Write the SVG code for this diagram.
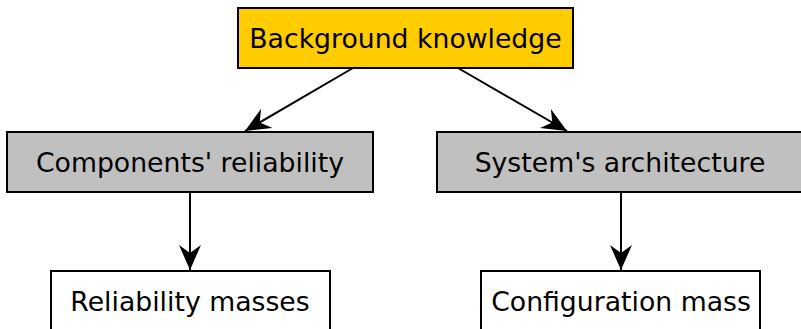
<svg xmlns="http://www.w3.org/2000/svg" width="801" height="329" viewBox="0 0 801 329">
  <style>
    .box { stroke: #000; stroke-width: 2; }
    .top { fill: #ffcc00; }
    .mid { fill: #c0c0c0; }
    .leaf { fill: #ffffff; }
    .lbl { font-family: "DejaVu Sans", sans-serif; font-size: 26.7px; fill: #000; text-anchor: middle; }
    .edge { stroke: #000; stroke-width: 2; fill: none; marker-end: url(#arrow); }
  </style>
  <defs>
    <marker id="arrow" markerUnits="userSpaceOnUse" markerWidth="26" markerHeight="22" refX="25" refY="11" orient="auto">
      <path d="M0,0 L25,11 L0,22 L8,11 Z" fill="#000"/>
    </marker>
  </defs>
  <rect width="801" height="329" fill="#fff"/>

  <g id="connectors">
    <line class="edge" x1="353" y1="68" x2="245" y2="131"/>
    <line class="edge" x1="458" y1="68" x2="567" y2="131"/>
    <line class="edge" x1="190" y1="192" x2="190" y2="270"/>
    <line class="edge" x1="621" y1="192" x2="621" y2="270"/>
  </g>

  <g id="background-knowledge">
    <rect class="box top" x="238" y="8" width="335" height="60"/>
    <text class="lbl" x="405.5" y="48">Background knowledge</text>
  </g>
  <g id="components-reliability">
    <rect class="box mid" x="7" y="132" width="366" height="60"/>
    <text class="lbl" x="190" y="172">Components' reliability</text>
  </g>
  <g id="systems-architecture">
    <rect class="box mid" x="437" y="132" width="370" height="60"/>
    <text class="lbl" x="620" y="172">System's architecture</text>
  </g>
  <g id="reliability-masses">
    <rect class="box leaf" x="51" y="271" width="279" height="70"/>
    <text class="lbl" x="190" y="311">Reliability masses</text>
  </g>
  <g id="configuration-mass">
    <rect class="box leaf" x="481" y="271" width="279" height="70"/>
    <text class="lbl" x="621" y="311">Configuration mass</text>
  </g>
</svg>
